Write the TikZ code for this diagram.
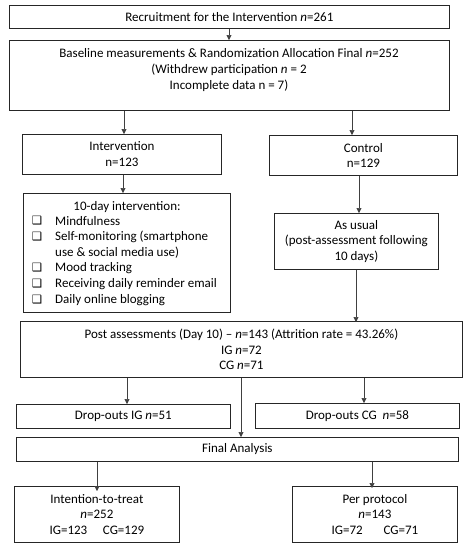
\documentclass[tikz,border=0pt]{standalone}
\usepackage{fontspec}
\setmainfont{Carlito}
\newfontfamily\symfont{DejaVu Sans}
\usetikzlibrary{arrows.meta}
\newcommand{\nn}{\textit{n}}
\newcommand{\cb}{{\symfont\fontsize{11.5}{12}\selectfont ❑}}
\tikzset{
  box/.style={draw=black!85, line width=0.8pt, rectangle, inner sep=0pt, align=center, font=\fontsize{13}{15.8}\selectfont},
  txt/.style={inner sep=0pt, align=center, font=\fontsize{13}{15.8}\selectfont},
  arr/.style={draw=black!75, line width=0.6pt, -{Triangle[length=5pt,width=5pt]}},
}
\newcommand{\bx}[6]{\node[box, anchor=north west, minimum width=#4-#2, minimum height=#5-#3] (#1) at (#2,#3) {#6};}
\begin{document}
\begin{tikzpicture}[x=1pt,y=-1pt]
\useasboundingbox (0,0) rectangle (468,550);
\fill[white] (0,0) rectangle (468,550);
% boxes
\bx{b1}{9}{5}{449}{28}{Recruitment for the Intervention \nn=261}
\bx{b2}{9}{40}{449}{110}{}
\node[txt] (b2t) at (229,70) {Baseline measurements \& Randomization Allocation Final \nn=252\\(Withdrew participation \nn{} = 2\\Incomplete data n = 7)};
\bx{iv}{22}{134}{221}{174}{Intervention\\n=123}
\bx{ct}{269}{135}{457}{175}{Control\\n=129}
\bx{td}{23}{193}{230}{312}{}
\node[txt] (tdt) at (127,207) {10-day intervention:};
\foreach \yy/\nm in {221/c1,237/c2,268/c3,284/c4,300/c5}{\node[txt] (\nm) at (37,\yy) {\cb};}
\node[txt, anchor=west] (i1) at (55,221) {Mindfulness};
\node[txt, anchor=west] (i2) at (55,237) {Self-monitoring (smartphone};
\node[txt, anchor=west] (i2b) at (55,252.5) {use \& social media use)};
\node[txt, anchor=west] (i3) at (55,268) {Mood tracking};
\node[txt, anchor=west] (i4) at (55,284) {Receiving daily reminder email};
\node[txt, anchor=west] (i5) at (55,300) {Daily online blogging};
\bx{au}{274}{213}{438}{269}{As usual\\(post-assessment following\\10 days)}
\bx{pa}{20}{321}{462}{377}{Post assessments (Day 10) -- \nn=143 (Attrition rate = 43.26\%)\\IG \nn=72\\CG \nn=71}
\bx{dig}{16}{404}{230}{428}{Drop-outs IG \nn=51}
\bx{dcg}{255}{403}{459}{428}{Drop-outs CG\ \ \nn=58}
\bx{fa}{16}{437}{458}{461}{Final Analysis}
\bx{itt}{14}{486}{179}{542}{Intention-to-treat\\\nn=252\\IG=123\hspace{1.2em}CG=129}
\bx{pp}{292}{486}{457}{542}{Per protocol\\\nn=143\\IG=72\hspace{1.6em}CG=71}
% helper x coordinates
\coordinate (xa) at (124,0);
\coordinate (xb) at (352,0);
\coordinate (xc) at (123,0);
\coordinate (xd) at (359,0);
\coordinate (xe) at (356,0);
\coordinate (xf) at (127,0);
\coordinate (xg) at (241,0);
\coordinate (xh) at (364,0);
\coordinate (xi) at (97,0);
\coordinate (xj) at (372,0);
\coordinate (xk) at (229,0);
% connectors
\draw[arr] (b1.south -| xk) -- (b2.north -| xk);
\draw[arr] (b2.south -| xa) -- (iv.north -| xa);
\draw[arr] (b2.south -| xb) -- (ct.north -| xb);
\draw[arr] (iv.south -| xc) -- (td.north -| xc);
\draw[arr] (ct.south -| xd) -- (au.north -| xd);
\draw[arr] (au.south -| xe) -- ([yshift=-1pt]pa.north -| xe);
\draw[arr] (pa.south -| xf) -- (dig.north -| xf);
\draw[arr] (pa.south -| xg) -- (fa.north -| xg);
\draw[arr] (pa.south -| xh) -- (dcg.north -| xh);
\draw[arr] (fa.south -| xi) -- ([yshift=-5pt]itt.north -| xi);
\draw[arr] (fa.south -| xj) -- ([yshift=-2pt]pp.north -| xj);
\end{tikzpicture}
\end{document}
